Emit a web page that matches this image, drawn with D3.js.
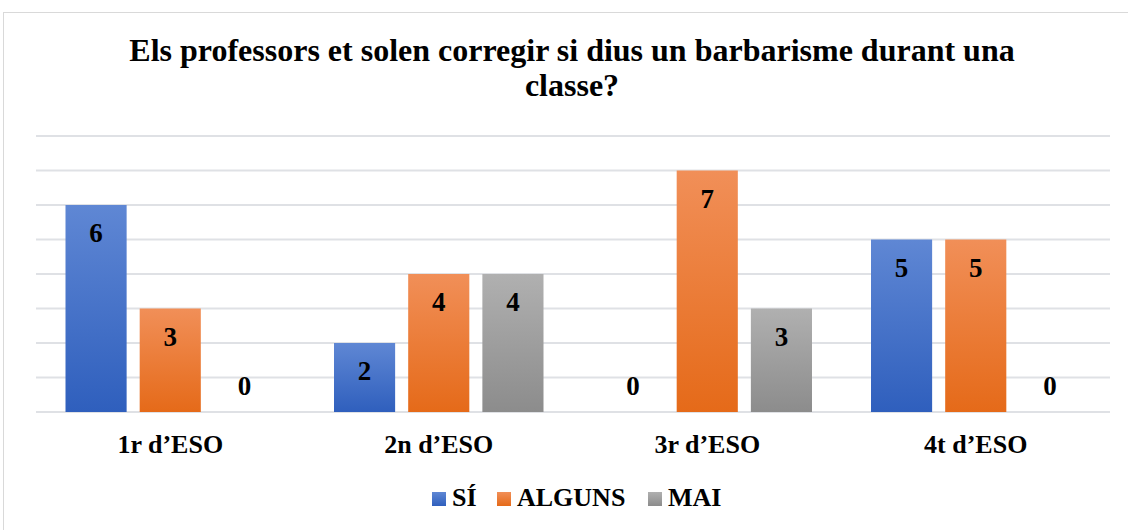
<!DOCTYPE html>
<html>
<head>
<meta charset="utf-8">
<script src="https://cdn.jsdelivr.net/npm/d3@7"></script>
</head>
<body style="margin:0; background:#fff">
<svg id="chart" width="1128" height="530"></svg>
<script>
const categories = ["1r d\u2019ESO", "2n d\u2019ESO", "3r d\u2019ESO", "4t d\u2019ESO"];
const series = ["SÍ", "ALGUNS", "MAI"];
const valuesSI = [6, 2, 0, 5];
const valuesAlguns = [3, 4, 7, 5];
const valuesMai = [0, 4, 3, 0];
const yTicks = [0, 1, 2, 3, 4, 5, 6, 7, 8];
const titleLines = ["Els professors et solen corregir si dius un barbarisme durant una", "classe?"];

const colors = {
    "SÍ": ["#5f87d4", "#2f5fbd"],
    "ALGUNS": ["#f18f58", "#e56a19"],
    "MAI": ["#b0b0b0", "#8c8c8c"]
};

const allValues = [valuesSI, valuesAlguns, valuesMai];

const svg = d3.select("#chart");

function label(sel, size) {
    return sel.style("font-family", "'Liberation Serif'")
        .style("font-weight", "bold")
        .style("font-size", size + "px")
        .attr("fill", "#000");
}

// outer frame
svg.append("rect")
    .attr("x", 3.5).attr("y", 12.5)
    .attr("width", 1200).attr("height", 600)
    .attr("fill", "none")
    .attr("stroke", "#d9d9d9");

const defs = svg.append("defs");
series.forEach((s, i) => {
    let g = defs.append("linearGradient")
        .attr("id", "grad" + i)
        .attr("x1", 0).attr("y1", 0).attr("x2", 0).attr("y2", 1);
    g.append("stop").attr("offset", "0%").attr("stop-color", colors[s][0]);
    g.append("stop").attr("offset", "100%").attr("stop-color", colors[s][1]);
});

// title
svg.append("g")
    .selectAll("text")
    .data(titleLines)
    .enter()
    .append("text")
    .attr("x", 572)
    .attr("y", (d, i) => 61 + i * 35)
    .attr("text-anchor", "middle")
    .call(label, 32)
    .text(d => d);

const x0 = d3.scaleBand().domain(categories).range([36, 1110]);
const x1 = d3.scaleBand().domain(series).range([29.5, 239]).paddingInner(0.176);
const y = d3.scaleLinear().domain([0, 8]).range([412, 136]);

// gridlines
svg.append("g")
    .selectAll("line")
    .data(yTicks)
    .enter()
    .append("line")
    .attr("x1", 36).attr("x2", 1110)
    .attr("y1", d => y(d)).attr("y2", d => y(d))
    .attr("stroke", "#dfe1e5")
    .attr("stroke-width", 2);

const rows = [];
categories.forEach((c, ci) => {
    series.forEach((s, si) => {
        rows.push({ cat: c, ser: s, si: si, v: allValues[si][ci] });
    });
});

const bars = svg.append("g");
bars.selectAll("rect")
    .data(rows.filter(d => d.v > 0))
    .enter()
    .append("rect")
    .attr("x", d => x0(d.cat) + x1(d.ser))
    .attr("y", d => y(d.v))
    .attr("width", x1.bandwidth())
    .attr("height", d => y(0) - y(d.v))
    .attr("fill", d => "url(#grad" + d.si + ")");

// data labels
bars.selectAll("text")
    .data(rows)
    .enter()
    .append("text")
    .attr("x", d => x0(d.cat) + x1(d.ser) + x1.bandwidth() / 2)
    .attr("y", d => d.v > 0 ? y(d.v) + 37 : y(0) - 17)
    .attr("text-anchor", "middle")
    .call(label, 27)
    .text(d => d.v);

// category axis
svg.append("g")
    .selectAll("text")
    .data(categories)
    .enter()
    .append("text")
    .attr("x", d => x0(d) + x0.bandwidth() / 2)
    .attr("y", 453)
    .attr("text-anchor", "middle")
    .call(label, 26)
    .text(d => d);

// legend
const legendX = [432, 497, 648];
const legend = svg.append("g")
    .selectAll("g")
    .data(series)
    .enter()
    .append("g")
    .attr("transform", (d, i) => "translate(" + legendX[i] + ",0)");
legend.append("rect")
    .attr("x", 0).attr("y", 492)
    .attr("width", 14).attr("height", 14)
    .attr("fill", (d, i) => "url(#grad" + i + ")");
legend.append("text")
    .attr("x", 20).attr("y", 506)
    .call(label, 26)
    .text(d => d);
</script>
</body>
</html>
